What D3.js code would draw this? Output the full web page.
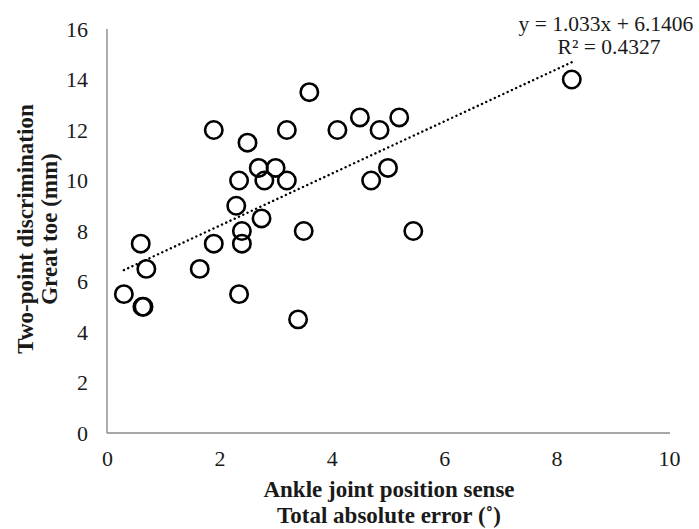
<!DOCTYPE html>
<html>
<head>
<meta charset="utf-8">
<script src="https://cdn.jsdelivr.net/npm/d3@7"></script>
<style>
  html, body { margin: 0; padding: 0; background: #fff; }
  svg { display: block; font-family: "Liberation Serif", "Times New Roman", serif; }
</style>
</head>
<body>
<svg id="chart" width="699" height="529"></svg>
<script>
// Data
const xValues = [0.3, 0.6, 0.63, 0.65, 0.7, 1.65, 1.9, 1.9, 2.3, 2.35, 2.35, 2.4, 2.4, 2.5, 2.7, 2.75, 2.8, 3.0, 3.2, 3.2, 3.4, 3.5, 3.6, 4.1, 4.5, 4.7, 4.85, 5.0, 5.2, 5.45, 8.27];
const yValues = [5.5, 7.5, 5.0, 5.0, 6.5, 6.5, 12.0, 7.5, 9.0, 10.0, 5.5, 8.0, 7.5, 11.5, 10.5, 8.5, 10.0, 10.5, 12.0, 10.0, 4.5, 8.0, 13.5, 12.0, 12.5, 10.0, 12.0, 10.5, 12.5, 8.0, 14.0];
const xTicks = [0, 2, 4, 6, 8, 10];
const yTicks = [0, 2, 4, 6, 8, 10, 12, 14, 16];
const slope = 1.033;
const intercept = 6.1406;
const equationLabel = "y = 1.033x + 6.1406";
const r2Label = "R² = 0.4327";
const xTitleLines = ["Ankle joint position sense", "Total absolute error (˚)"];
const yTitleLines = ["Two-point discrimination", "Great toe (mm)"];

const svg = d3.select("#chart");
const x = d3.scaleLinear().domain([0, 10]).range([107, 669]);
const y = d3.scaleLinear().domain([0, 16]).range([433, 29]);
const axisColor = "#8a8a8a";
const tickFont = 22;

// X axis
const gx = svg.append("g").attr("transform", `translate(0,${y(0)})`)
  .call(d3.axisBottom(x).tickValues(xTicks).tickSize(0).tickPadding(17).tickFormat(d3.format("d")));
gx.select(".domain").attr("stroke", axisColor).attr("stroke-width", 1.4).attr("d", `M${x(0)},0H${x(10) + 1}`);
gx.selectAll("text").attr("font-size", tickFont).attr("font-family", "Liberation Serif").attr("fill", "#1a1a1a");

// Y axis
const gy = svg.append("g").attr("transform", `translate(${x(0)},0)`)
  .call(d3.axisLeft(y).tickValues(yTicks).tickSize(0).tickPadding(19).tickFormat(d3.format("d")));
gy.select(".domain").attr("stroke", axisColor).attr("stroke-width", 1.4).attr("d", `M0,${y(16)}V${y(0)}`);
gy.selectAll("text").attr("font-size", tickFont).attr("font-family", "Liberation Serif").attr("fill", "#1a1a1a");

// Trend line (dotted)
const xmin = d3.min(xValues), xmax = d3.max(xValues);
svg.append("line")
  .attr("x1", x(xmin)).attr("y1", y(slope * xmin + intercept))
  .attr("x2", x(xmax)).attr("y2", y(slope * xmax + intercept))
  .attr("stroke", "#000").attr("stroke-width", 2.4)
  .attr("stroke-linecap", "round").attr("stroke-dasharray", "0.1 4.6");

// Points
svg.append("g").selectAll("circle")
  .data(xValues.map((v, i) => [v, yValues[i]]))
  .join("circle")
  .attr("cx", d => x(d[0])).attr("cy", d => y(d[1]))
  .attr("r", 8.7)
  .attr("fill", "none").attr("stroke", "#000").attr("stroke-width", 2.6);

// Equation labels
const eq = svg.append("g").attr("font-size", 21.5).attr("fill", "#1a1a1a").attr("text-anchor", "middle");
eq.append("text").attr("x", 606).attr("y", 31).text(equationLabel);
eq.append("text").attr("x", 609).attr("y", 54).text(r2Label);

// X title
const xt = svg.append("g").attr("font-size", 23).attr("font-weight", "bold").attr("fill", "#1a1a1a").attr("text-anchor", "middle");
xTitleLines.forEach((t, i) => xt.append("text").attr("x", 389).attr("y", 497 + i * 26).text(t));

// Y title
const yt = svg.append("g").attr("font-size", 23).attr("font-weight", "bold").attr("fill", "#1a1a1a").attr("text-anchor", "middle");
yTitleLines.forEach((t, i) => yt.append("text")
  .attr("transform", `translate(${33 + i * 24},${229}) rotate(-90)`).text(t));
</script>
</body>
</html>
